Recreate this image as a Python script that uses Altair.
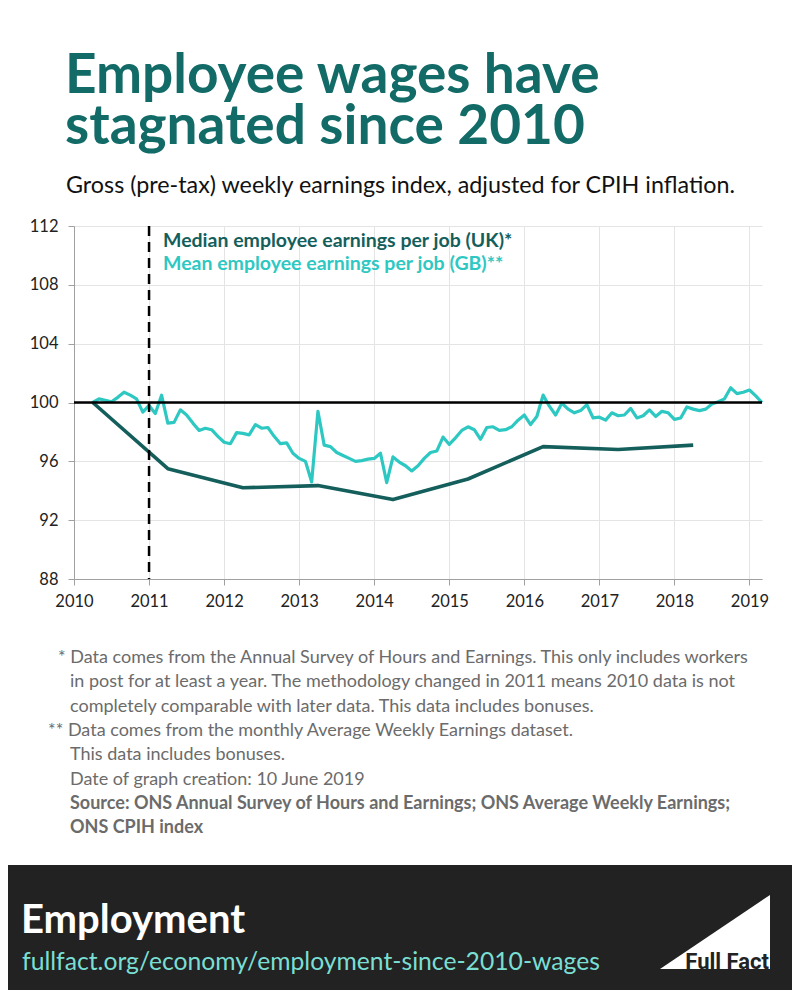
import altair as alt
import pandas as pd

# ---------------- data ----------------
# Mean employee earnings per job (GB), monthly, April 2010 - March 2019 (index, April 2010 = 100)
mean_start = "2010-04-01"
mean_values = [
    # 2010 Apr-Dec
    100.0, 100.25, 100.15, 100.05, 100.35, 100.7, 100.5, 100.25, 99.35,
    # 2011
    99.8, 99.25, 100.5, 98.6, 98.65, 99.5, 99.15, 98.6, 98.1, 98.25, 98.15, 97.7,
    # 2012
    97.3, 97.2, 97.95, 97.9, 97.8, 98.5, 98.25, 98.3, 97.7, 97.2, 97.25, 96.55,
    # 2013
    96.2, 96.0, 94.6, 99.4, 97.1, 97.0, 96.6, 96.4, 96.2, 96.0, 96.05, 96.15,
    # 2014
    96.2, 96.55, 94.55, 96.3, 95.95, 95.7, 95.35, 95.7, 96.2, 96.6, 96.7, 97.65,
    # 2015
    97.15, 97.6, 98.1, 98.35, 98.15, 97.5, 98.3, 98.35, 98.1, 98.15, 98.35, 98.8,
    # 2016
    99.15, 98.5, 99.05, 100.5, 99.75, 99.15, 99.95, 99.55, 99.3, 99.45, 99.85, 98.95,
    # 2017
    99.0, 98.8, 99.3, 99.1, 99.15, 99.6, 98.95, 99.1, 99.5, 99.05, 99.4, 99.3,
    # 2018
    98.85, 98.95, 99.7, 99.55, 99.45, 99.55, 99.9, 100.05, 100.25, 101.0, 100.6, 100.7,
    # 2019 Jan-Mar
    100.85, 100.45, 100.0,
]

# Median employee earnings per job (UK), annual (April)
median_dates = ["2010-04-01", "2011-04-01", "2012-04-01", "2013-04-01", "2014-04-01",
                "2015-04-01", "2016-04-01", "2017-04-01", "2018-04-01"]
median_values = [100.0, 95.5, 94.2, 94.35, 93.4, 94.8, 97.0, 96.8, 97.1]

x_ticks = [2010, 2011, 2012, 2013, 2014, 2015, 2016, 2017, 2018, 2019]
y_ticks = [88, 92, 96, 100, 104, 108, 112]
x_domain = [2010, 2019 + 2 / 12]
y_domain = [88, 112]
baseline_value = 100
marker_year = 2011

title_lines = ["Employee wages have", "stagnated since 2010"]
subtitle = "Gross (pre-tax) weekly earnings index, adjusted for CPIH inflation."
legend_median = "Median employee earnings per job (UK)*"
legend_mean = "Mean employee earnings per job (GB)**"
notes = [
    "* Data comes from the Annual Survey of Hours and Earnings. This only includes workers",
    "in post for at least a year. The methodology changed in 2011 means 2010 data is not",
    "completely comparable with later data.  This data includes bonuses.",
    "** Data comes from the monthly Average Weekly Earnings dataset.",
    "This data includes bonuses.",
    "Date of graph creation: 10 June 2019",
    "Source: ONS Annual Survey of Hours and Earnings; ONS Average Weekly Earnings;",
    "ONS CPIH index",
]
footer_title = "Employment"
footer_url = "fullfact.org/economy/employment-since-2010-wages"
logo_text = "Full Fact"


def decimal_year(d):
    d = pd.Timestamp(d)
    return d.year + (d.month - 1) / 12


mean_dates = pd.date_range(mean_start, periods=len(mean_values), freq="MS")
df_mean = pd.DataFrame({"x": [decimal_year(d) for d in mean_dates], "v": mean_values})
df_median = pd.DataFrame({"x": [decimal_year(d) for d in median_dates], "v": median_values})
one = pd.DataFrame({"t": [0]})

# ---------------- styles ----------------
TEAL = "#136B68"
MEDIAN_C = "#145F5C"
MEAN_C = "#2EC8C3"
NOTE_C = "#6b6b6b"
FONT = "Lato"

W, H = 688, 353

xenc = alt.X("x:Q", title=None,
             scale=alt.Scale(domain=x_domain, nice=False, zero=False),
             axis=alt.Axis(values=x_ticks, format="d", labelPadding=8, tickSize=6,
                           labelFontSize=16.5, labelFont=FONT, labelColor="#222",
                           domainColor="#a0a0a0", tickColor="#a0a0a0",
                           gridColor="#e4e4e4", labelFlush=False))
yenc = alt.Y("v:Q", title=None,
             scale=alt.Scale(domain=y_domain, nice=False, zero=False),
             axis=alt.Axis(values=y_ticks, labelPadding=10, tickSize=6,
                           labelFontSize=16.5, labelFont=FONT, labelColor="#222",
                           domainColor="#a0a0a0", tickColor="#a0a0a0",
                           gridColor="#e4e4e4"))

mean_line = alt.Chart(df_mean).mark_line(color=MEAN_C, strokeWidth=3.2, strokeJoin="round").encode(x=xenc, y=yenc)
median_line = alt.Chart(df_median).mark_line(color=MEDIAN_C, strokeWidth=3.6, strokeJoin="round").encode(x="x:Q", y="v:Q")
base_rule = alt.Chart(one).mark_rule(color="black", strokeWidth=2.5).encode(y=alt.datum(baseline_value))
dash_rule = alt.Chart(one).mark_rule(color="black", strokeWidth=2.5, strokeDash=[10, 6]).encode(x=alt.datum(marker_year))


def txt(s, x, y, size, color, weight="normal", font=FONT, align="left", **kw):
    return alt.Chart(one).mark_text(text=s, align=align, baseline="alphabetic", fontSize=size,
                                    color=color, fontWeight=weight, font=font, **kw).encode(
        x=alt.value(x), y=alt.value(y))


layers = [mean_line, median_line, base_rule, dash_rule]

# titles (positions relative to plot origin)
layers.append(txt(title_lines[0], -9, -133, 55, TEAL, "bold"))
layers.append(txt(title_lines[1], -9, -82, 55, TEAL, "bold"))
layers.append(txt(subtitle, -8, -33, 23.3, "#111"))
layers.append(txt(legend_median, 89, 21, 19.5, MEDIAN_C, "bold"))
layers.append(txt(legend_mean, 89, 44, 19.5, MEAN_C, "bold"))

note_x = [-16, -4, -4, -26, -4, -4, -4, -4]
for i, line in enumerate(notes):
    w = "bold" if i >= 6 else "normal"
    layers.append(txt(line, note_x[i], 437 + 24.3 * i, 18, NOTE_C, w))

# footer
layers.append(alt.Chart(one).mark_rect(color="#222222").encode(
    x=alt.value(-66), x2=alt.value(718), y=alt.value(639), y2=alt.value(764)))
layers.append(txt(footer_title, -53, 707, 40, "white", "bold"))
layers.append(txt(footer_url, -52, 744, 24.7, "#7ADFD3"))
layers.append(alt.Chart(one).mark_point(shape="M1,-0.673L1,0.673L-1,0.673Z", size=12100,
                                        filled=True, color="white", opacity=1, strokeWidth=0).encode(
    x=alt.value(641), y=alt.value(706)))
layers.append(txt(logo_text, 695, 743, 22, "#222", "bold", font="Roboto", align="right"))

chart = alt.layer(*layers).properties(
    width=W, height=H,
    padding={"left": 66, "top": 218, "right": 30, "bottom": 411},
    autosize=alt.AutoSizeParams(type="none"),
    background="white",
).configure_view(stroke=None)

chart.save("out.html", embed_options={"renderer": "svg", "actions": False})
